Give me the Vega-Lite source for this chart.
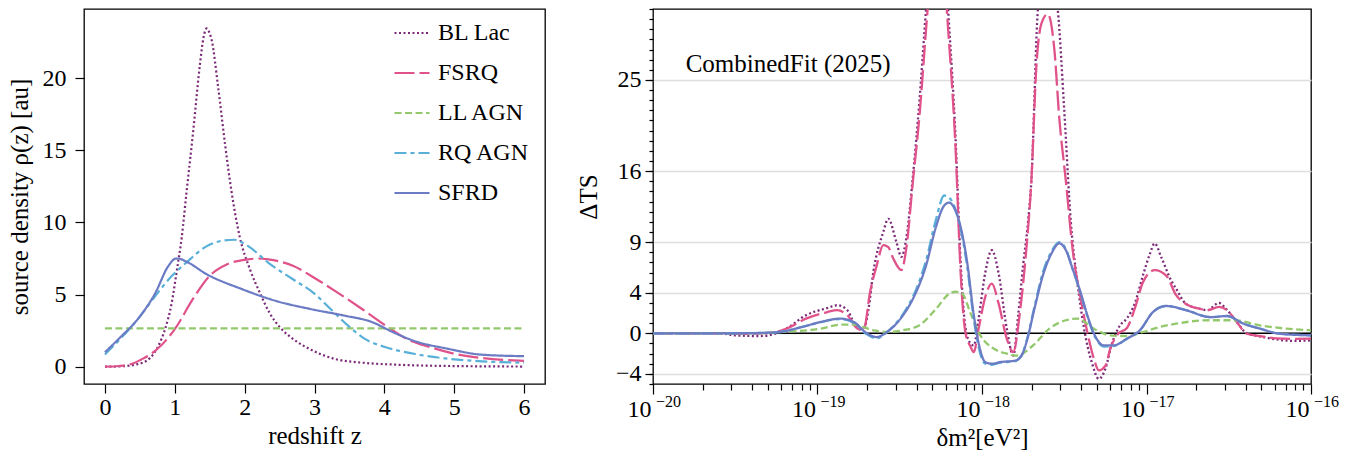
{
"$schema": "https://vega.github.io/schema/vega-lite/v6.json",
"padding": {"left": 6, "top": 7, "right": 0, "bottom": 0},
"background": "white",
"config": {
  "font": "Liberation Serif",
  "view": {"stroke": "black", "strokeWidth": 1.3},
  "axis": {"domain": false, "grid": false, "tickColor": "black", "tickWidth": 1.2, "labelColor": "black", "labelFont": "Liberation Serif", "labelFontSize": 24, "labelFlush": false, "labelOverlap": false, "titleFont": "Liberation Serif", "titleFontSize": 25, "titleFontWeight": "normal", "titleColor": "black"},
  "legend": {"labelFont": "Liberation Serif"}
},
"datasets": {
"rho": [
{"src":"BL Lac","z":0,"rho":0},{"src":"BL Lac","z":0.2,"rho":0.02},{"src":"BL Lac","z":0.45,"rho":0.16},{"src":"BL Lac","z":0.55,"rho":0.3},{"src":"BL Lac","z":0.645,"rho":0.6},{"src":"BL Lac","z":0.76,"rho":1.4},{"src":"BL Lac","z":0.86,"rho":2.6},{"src":"BL Lac","z":0.955,"rho":4.4},{"src":"BL Lac","z":1.03,"rho":6.7},{"src":"BL Lac","z":1.1,"rho":9.0},{"src":"BL Lac","z":1.17,"rho":12.2},{"src":"BL Lac","z":1.265,"rho":16.4},{"src":"BL Lac","z":1.36,"rho":20.97},{"src":"BL Lac","z":1.41,"rho":22.8},{"src":"BL Lac","z":1.457,"rho":23.45},{"src":"BL Lac","z":1.5,"rho":23.1},{"src":"BL Lac","z":1.53,"rho":22.6},{"src":"BL Lac","z":1.62,"rho":19.4},{"src":"BL Lac","z":1.72,"rho":15.4},{"src":"BL Lac","z":1.81,"rho":12.2},{"src":"BL Lac","z":1.93,"rho":9.0},{"src":"BL Lac","z":2.08,"rho":6.7},{"src":"BL Lac","z":2.22,"rho":5.1},{"src":"BL Lac","z":2.36,"rho":3.7},{"src":"BL Lac","z":2.51,"rho":2.7},{"src":"BL Lac","z":2.7,"rho":1.9},{"src":"BL Lac","z":2.94,"rho":1.2},{"src":"BL Lac","z":3.28,"rho":0.55},{"src":"BL Lac","z":3.68,"rho":0.28},{"src":"BL Lac","z":4.17,"rho":0.14},{"src":"BL Lac","z":4.9,"rho":0.05},{"src":"BL Lac","z":6,"rho":0.01},
{"src":"FSRQ","z":0,"rho":0},{"src":"FSRQ","z":0.2,"rho":0.05},{"src":"FSRQ","z":0.4,"rho":0.22},{"src":"FSRQ","z":0.52,"rho":0.5},{"src":"FSRQ","z":0.65,"rho":0.85},{"src":"FSRQ","z":0.81,"rho":1.5},{"src":"FSRQ","z":1.0,"rho":2.6},{"src":"FSRQ","z":1.26,"rho":4.7},{"src":"FSRQ","z":1.5,"rho":6.3},{"src":"FSRQ","z":1.75,"rho":7.1},{"src":"FSRQ","z":2.05,"rho":7.44},{"src":"FSRQ","z":2.2,"rho":7.5},{"src":"FSRQ","z":2.34,"rho":7.44},{"src":"FSRQ","z":2.69,"rho":7.0},{"src":"FSRQ","z":3.03,"rho":6.06},{"src":"FSRQ","z":3.33,"rho":5.14},{"src":"FSRQ","z":3.68,"rho":4.0},{"src":"FSRQ","z":4.02,"rho":2.85},{"src":"FSRQ","z":4.32,"rho":1.93},{"src":"FSRQ","z":4.66,"rho":1.35},{"src":"FSRQ","z":5.0,"rho":0.9},{"src":"FSRQ","z":5.4,"rho":0.6},{"src":"FSRQ","z":6,"rho":0.41},
{"src":"LL AGN","z":0,"rho":2.65},{"src":"LL AGN","z":3,"rho":2.65},{"src":"LL AGN","z":6,"rho":2.65},
{"src":"RQ AGN","z":0,"rho":0.85},{"src":"RQ AGN","z":0.22,"rho":1.93},{"src":"RQ AGN","z":0.47,"rho":3.3},{"src":"RQ AGN","z":0.72,"rho":4.9},{"src":"RQ AGN","z":0.96,"rho":6.3},{"src":"RQ AGN","z":1.16,"rho":7.2},{"src":"RQ AGN","z":1.46,"rho":8.36},{"src":"RQ AGN","z":1.7,"rho":8.75},{"src":"RQ AGN","z":1.85,"rho":8.8},{"src":"RQ AGN","z":2.05,"rho":8.36},{"src":"RQ AGN","z":2.34,"rho":7.2},{"src":"RQ AGN","z":2.69,"rho":6.06},{"src":"RQ AGN","z":2.98,"rho":5.14},{"src":"RQ AGN","z":3.23,"rho":4.0},{"src":"RQ AGN","z":3.48,"rho":2.85},{"src":"RQ AGN","z":3.72,"rho":1.93},{"src":"RQ AGN","z":4.02,"rho":1.35},{"src":"RQ AGN","z":4.42,"rho":0.9},{"src":"RQ AGN","z":4.91,"rho":0.55},{"src":"RQ AGN","z":5.4,"rho":0.37},{"src":"RQ AGN","z":6,"rho":0.28},
{"src":"SFRD","z":0,"rho":1.0},{"src":"SFRD","z":0.22,"rho":2.04},{"src":"SFRD","z":0.47,"rho":3.3},{"src":"SFRD","z":0.72,"rho":5.1},{"src":"SFRD","z":0.91,"rho":7.0},{"src":"SFRD","z":1.01,"rho":7.49},{"src":"SFRD","z":1.05,"rho":7.5},{"src":"SFRD","z":1.16,"rho":7.3},{"src":"SFRD","z":1.46,"rho":6.4},{"src":"SFRD","z":1.95,"rho":5.4},{"src":"SFRD","z":2.44,"rho":4.57},{"src":"SFRD","z":2.94,"rho":4.0},{"src":"SFRD","z":3.43,"rho":3.54},{"src":"SFRD","z":3.82,"rho":3.1},{"src":"SFRD","z":4.12,"rho":2.4},{"src":"SFRD","z":4.42,"rho":1.8},{"src":"SFRD","z":4.91,"rho":1.24},{"src":"SFRD","z":5.4,"rho":0.83},{"src":"SFRD","z":6,"rho":0.73}
],
"dts": [
{"src":"BL Lac","m":1e-20,"ts":0},{"src":"BL Lac","m":2.512e-20,"ts":0},{"src":"BL Lac","m":3.162e-20,"ts":-0.2},{"src":"BL Lac","m":4.467e-20,"ts":-0.27},{"src":"BL Lac","m":5.623e-20,"ts":0},{"src":"BL Lac","m":6.457e-20,"ts":0.46},{"src":"BL Lac","m":8.511e-20,"ts":1.78},{"src":"BL Lac","m":1.148e-19,"ts":2.5},{"src":"BL Lac","m":1.318e-19,"ts":2.77},{"src":"BL Lac","m":1.514e-19,"ts":2.3},{"src":"BL Lac","m":1.66e-19,"ts":1.1},{"src":"BL Lac","m":1.82e-19,"ts":0.4},{"src":"BL Lac","m":1.95e-19,"ts":0.8},{"src":"BL Lac","m":2.042e-19,"ts":2.4},{"src":"BL Lac","m":2.188e-19,"ts":6.1},{"src":"BL Lac","m":2.512e-19,"ts":10.0},{"src":"BL Lac","m":2.692e-19,"ts":11.3},{"src":"BL Lac","m":3.02e-19,"ts":9.0},{"src":"BL Lac","m":3.236e-19,"ts":7.55},{"src":"BL Lac","m":3.467e-19,"ts":9.4},{"src":"BL Lac","m":3.802e-19,"ts":15.5},{"src":"BL Lac","m":4.169e-19,"ts":23},{"src":"BL Lac","m":4.571e-19,"ts":32},{"src":"BL Lac","m":5.012e-19,"ts":40},{"src":"BL Lac","m":5.37e-19,"ts":44},{"src":"BL Lac","m":5.754e-19,"ts":41},{"src":"BL Lac","m":6.166e-19,"ts":33},{"src":"BL Lac","m":6.918e-19,"ts":19},{"src":"BL Lac","m":7.413e-19,"ts":7},{"src":"BL Lac","m":7.943e-19,"ts":0.5},{"src":"BL Lac","m":8.511e-19,"ts":-1.0},{"src":"BL Lac","m":8.913e-19,"ts":-1.2},{"src":"BL Lac","m":9.55e-19,"ts":1.5},{"src":"BL Lac","m":1.047e-18,"ts":6.0},{"src":"BL Lac","m":1.148e-18,"ts":8.2},{"src":"BL Lac","m":1.259e-18,"ts":6.0},{"src":"BL Lac","m":1.413e-18,"ts":0.5},{"src":"BL Lac","m":1.549e-18,"ts":-2.2},{"src":"BL Lac","m":1.66e-18,"ts":1.8},{"src":"BL Lac","m":1.778e-18,"ts":6.7},{"src":"BL Lac","m":1.905e-18,"ts":11},{"src":"BL Lac","m":1.995e-18,"ts":15},{"src":"BL Lac","m":2.188e-18,"ts":32},{"src":"BL Lac","m":2.399e-18,"ts":36},{"src":"BL Lac","m":2.63e-18,"ts":35},{"src":"BL Lac","m":2.884e-18,"ts":32},{"src":"BL Lac","m":3.162e-18,"ts":22},{"src":"BL Lac","m":3.467e-18,"ts":11},{"src":"BL Lac","m":3.802e-18,"ts":5},{"src":"BL Lac","m":4.169e-18,"ts":0.5},{"src":"BL Lac","m":4.677e-18,"ts":-3.0},{"src":"BL Lac","m":5.129e-18,"ts":-4.5},{"src":"BL Lac","m":5.623e-18,"ts":-3.5},{"src":"BL Lac","m":6.166e-18,"ts":-1.0},{"src":"BL Lac","m":6.918e-18,"ts":0.8},{"src":"BL Lac","m":7.586e-18,"ts":1.45},{"src":"BL Lac","m":8.511e-18,"ts":3.0},{"src":"BL Lac","m":9.55e-18,"ts":5.8},{"src":"BL Lac","m":1.047e-17,"ts":7.8},{"src":"BL Lac","m":1.122e-17,"ts":8.87},{"src":"BL Lac","m":1.23e-17,"ts":7.5},{"src":"BL Lac","m":1.413e-17,"ts":5.2},{"src":"BL Lac","m":1.514e-17,"ts":4.4},{"src":"BL Lac","m":1.738e-17,"ts":2.9},{"src":"BL Lac","m":2.138e-17,"ts":2.4},{"src":"BL Lac","m":2.344e-17,"ts":2.28},{"src":"BL Lac","m":2.754e-17,"ts":3.0},{"src":"BL Lac","m":3.09e-17,"ts":2.3},{"src":"BL Lac","m":3.548e-17,"ts":1.1},{"src":"BL Lac","m":4.074e-17,"ts":0.0},{"src":"BL Lac","m":4.898e-17,"ts":-0.3},{"src":"BL Lac","m":6.166e-17,"ts":-0.6},{"src":"BL Lac","m":7.762e-17,"ts":-0.75},{"src":"BL Lac","m":1e-16,"ts":-0.7},
{"src":"FSRQ","m":1e-20,"ts":0},{"src":"FSRQ","m":2.512e-20,"ts":0},{"src":"FSRQ","m":3.548e-20,"ts":-0.05},{"src":"FSRQ","m":4.467e-20,"ts":0},{"src":"FSRQ","m":5.623e-20,"ts":0.15},{"src":"FSRQ","m":6.457e-20,"ts":0.46},{"src":"FSRQ","m":8.511e-20,"ts":1.45},{"src":"FSRQ","m":1.148e-19,"ts":2.1},{"src":"FSRQ","m":1.318e-19,"ts":2.28},{"src":"FSRQ","m":1.514e-19,"ts":1.8},{"src":"FSRQ","m":1.738e-19,"ts":0.5},{"src":"FSRQ","m":1.905e-19,"ts":0.3},{"src":"FSRQ","m":2.089e-19,"ts":4.1},{"src":"FSRQ","m":2.291e-19,"ts":6.7},{"src":"FSRQ","m":2.512e-19,"ts":8.7},{"src":"FSRQ","m":2.692e-19,"ts":8.5},{"src":"FSRQ","m":2.884e-19,"ts":7.4},{"src":"FSRQ","m":3.236e-19,"ts":6.24},{"src":"FSRQ","m":3.467e-19,"ts":8.4},{"src":"FSRQ","m":3.802e-19,"ts":15.0},{"src":"FSRQ","m":4.169e-19,"ts":21.5},{"src":"FSRQ","m":4.571e-19,"ts":30},{"src":"FSRQ","m":5.012e-19,"ts":38},{"src":"FSRQ","m":5.37e-19,"ts":41},{"src":"FSRQ","m":5.754e-19,"ts":38},{"src":"FSRQ","m":6.166e-19,"ts":31},{"src":"FSRQ","m":6.918e-19,"ts":18},{"src":"FSRQ","m":7.413e-19,"ts":6},{"src":"FSRQ","m":7.943e-19,"ts":0},{"src":"FSRQ","m":8.511e-19,"ts":-1.3},{"src":"FSRQ","m":8.913e-19,"ts":-1.85},{"src":"FSRQ","m":9.55e-19,"ts":0.5},{"src":"FSRQ","m":1.047e-18,"ts":3.6},{"src":"FSRQ","m":1.148e-18,"ts":4.9},{"src":"FSRQ","m":1.259e-18,"ts":3.0},{"src":"FSRQ","m":1.413e-18,"ts":-0.5},{"src":"FSRQ","m":1.549e-18,"ts":-1.85},{"src":"FSRQ","m":1.698e-18,"ts":2.0},{"src":"FSRQ","m":1.862e-18,"ts":8.4},{"src":"FSRQ","m":1.995e-18,"ts":15},{"src":"FSRQ","m":2.138e-18,"ts":26.2},{"src":"FSRQ","m":2.291e-18,"ts":30.5},{"src":"FSRQ","m":2.512e-18,"ts":31.5},{"src":"FSRQ","m":2.754e-18,"ts":28},{"src":"FSRQ","m":2.951e-18,"ts":21.2},{"src":"FSRQ","m":3.236e-18,"ts":15},{"src":"FSRQ","m":3.548e-18,"ts":8.4},{"src":"FSRQ","m":3.981e-18,"ts":3.4},{"src":"FSRQ","m":4.365e-18,"ts":0.13},{"src":"FSRQ","m":4.786e-18,"ts":-2.5},{"src":"FSRQ","m":5.129e-18,"ts":-3.66},{"src":"FSRQ","m":5.623e-18,"ts":-3.2},{"src":"FSRQ","m":6.026e-18,"ts":-1.5},{"src":"FSRQ","m":6.761e-18,"ts":0},{"src":"FSRQ","m":7.586e-18,"ts":0.5},{"src":"FSRQ","m":8.511e-18,"ts":2.5},{"src":"FSRQ","m":9.55e-18,"ts":5.1},{"src":"FSRQ","m":1.122e-17,"ts":6.24},{"src":"FSRQ","m":1.318e-17,"ts":5.7},{"src":"FSRQ","m":1.514e-17,"ts":3.76},{"src":"FSRQ","m":1.738e-17,"ts":2.9},{"src":"FSRQ","m":2.138e-17,"ts":2.4},{"src":"FSRQ","m":2.344e-17,"ts":2.28},{"src":"FSRQ","m":2.754e-17,"ts":2.6},{"src":"FSRQ","m":3.09e-17,"ts":2.28},{"src":"FSRQ","m":3.548e-17,"ts":1.1},{"src":"FSRQ","m":4.074e-17,"ts":-0.04},{"src":"FSRQ","m":4.898e-17,"ts":-0.27},{"src":"FSRQ","m":6.166e-17,"ts":-0.5},{"src":"FSRQ","m":7.762e-17,"ts":-0.55},{"src":"FSRQ","m":1e-16,"ts":-0.53},
{"src":"LL AGN","m":1e-20,"ts":0},{"src":"LL AGN","m":2.512e-20,"ts":0},{"src":"LL AGN","m":4.467e-20,"ts":0.02},{"src":"LL AGN","m":6.31e-20,"ts":0.15},{"src":"LL AGN","m":1.047e-19,"ts":0.46},{"src":"LL AGN","m":1.38e-19,"ts":0.85},{"src":"LL AGN","m":1.66e-19,"ts":0.85},{"src":"LL AGN","m":2.188e-19,"ts":0.3},{"src":"LL AGN","m":2.63e-19,"ts":0.13},{"src":"LL AGN","m":3.311e-19,"ts":0.3},{"src":"LL AGN","m":4.169e-19,"ts":0.8},{"src":"LL AGN","m":5.248e-19,"ts":2.4},{"src":"LL AGN","m":6.31e-19,"ts":3.9},{"src":"LL AGN","m":6.918e-19,"ts":4.1},{"src":"LL AGN","m":7.586e-19,"ts":3.9},{"src":"LL AGN","m":8.511e-19,"ts":2.0},{"src":"LL AGN","m":9.772e-19,"ts":-0.2},{"src":"LL AGN","m":1.175e-18,"ts":-1.5},{"src":"LL AGN","m":1.413e-18,"ts":-2.0},{"src":"LL AGN","m":1.622e-18,"ts":-2.2},{"src":"LL AGN","m":2.042e-18,"ts":-1.2},{"src":"LL AGN","m":2.57e-18,"ts":0.46},{"src":"LL AGN","m":3.236e-18,"ts":1.29},{"src":"LL AGN","m":3.802e-18,"ts":1.45},{"src":"LL AGN","m":4.786e-18,"ts":0.46},{"src":"LL AGN","m":6.026e-18,"ts":-0.2},{"src":"LL AGN","m":7.586e-18,"ts":-0.27},{"src":"LL AGN","m":9.55e-18,"ts":0.13},{"src":"LL AGN","m":1.202e-17,"ts":0.62},{"src":"LL AGN","m":1.514e-17,"ts":0.95},{"src":"LL AGN","m":1.905e-17,"ts":1.19},{"src":"LL AGN","m":2.455e-17,"ts":1.29},{"src":"LL AGN","m":3.388e-17,"ts":1.29},{"src":"LL AGN","m":4.898e-17,"ts":0.79},{"src":"LL AGN","m":7.079e-17,"ts":0.46},{"src":"LL AGN","m":1e-16,"ts":0.3},
{"src":"RQ AGN","m":1e-20,"ts":0},{"src":"RQ AGN","m":2.512e-20,"ts":0},{"src":"RQ AGN","m":3.981e-20,"ts":0.02},{"src":"RQ AGN","m":5.012e-20,"ts":0.06},{"src":"RQ AGN","m":5.888e-20,"ts":0.13},{"src":"RQ AGN","m":7.943e-20,"ts":0.6},{"src":"RQ AGN","m":1.047e-19,"ts":1.1},{"src":"RQ AGN","m":1.38e-19,"ts":1.4},{"src":"RQ AGN","m":1.66e-19,"ts":1.05},{"src":"RQ AGN","m":1.995e-19,"ts":-0.1},{"src":"RQ AGN","m":2.291e-19,"ts":-0.5},{"src":"RQ AGN","m":2.63e-19,"ts":0.1},{"src":"RQ AGN","m":3.311e-19,"ts":1.9},{"src":"RQ AGN","m":3.802e-19,"ts":3.6},{"src":"RQ AGN","m":4.571e-19,"ts":7.2},{"src":"RQ AGN","m":5.248e-19,"ts":11.2},{"src":"RQ AGN","m":5.888e-19,"ts":13.6},{"src":"RQ AGN","m":6.31e-19,"ts":13.4},{"src":"RQ AGN","m":6.761e-19,"ts":12.6},{"src":"RQ AGN","m":7.413e-19,"ts":10.3},{"src":"RQ AGN","m":8.128e-19,"ts":6.6},{"src":"RQ AGN","m":8.913e-19,"ts":1.4},{"src":"RQ AGN","m":9.55e-19,"ts":-1.4},{"src":"RQ AGN","m":1.047e-18,"ts":-3.0},{"src":"RQ AGN","m":1.148e-18,"ts":-3.1},{"src":"RQ AGN","m":1.288e-18,"ts":-2.9},{"src":"RQ AGN","m":1.585e-18,"ts":-2.75},{"src":"RQ AGN","m":1.738e-18,"ts":-2.2},{"src":"RQ AGN","m":1.862e-18,"ts":-0.8},{"src":"RQ AGN","m":2.089e-18,"ts":2.7},{"src":"RQ AGN","m":2.344e-18,"ts":6.0},{"src":"RQ AGN","m":2.63e-18,"ts":8.0},{"src":"RQ AGN","m":2.951e-18,"ts":9.0},{"src":"RQ AGN","m":3.236e-18,"ts":8.3},{"src":"RQ AGN","m":3.548e-18,"ts":6.4},{"src":"RQ AGN","m":3.981e-18,"ts":3.9},{"src":"RQ AGN","m":4.365e-18,"ts":1.7},{"src":"RQ AGN","m":4.786e-18,"ts":-0.1},{"src":"RQ AGN","m":5.495e-18,"ts":-1.3},{"src":"RQ AGN","m":6.31e-18,"ts":-1.25},{"src":"RQ AGN","m":7.586e-18,"ts":-0.55},{"src":"RQ AGN","m":9.12e-18,"ts":0.3},{"src":"RQ AGN","m":1.096e-17,"ts":2.1},{"src":"RQ AGN","m":1.318e-17,"ts":2.7},{"src":"RQ AGN","m":1.738e-17,"ts":2.3},{"src":"RQ AGN","m":2.455e-17,"ts":1.6},{"src":"RQ AGN","m":3.09e-17,"ts":1.7},{"src":"RQ AGN","m":3.89e-17,"ts":0.95},{"src":"RQ AGN","m":4.898e-17,"ts":0.46},{"src":"RQ AGN","m":6.457e-17,"ts":-0.04},{"src":"RQ AGN","m":1e-16,"ts":-0.2},
{"src":"SFRD","m":1e-20,"ts":0},{"src":"SFRD","m":2.512e-20,"ts":0},{"src":"SFRD","m":3.981e-20,"ts":0.02},{"src":"SFRD","m":5.012e-20,"ts":0.06},{"src":"SFRD","m":5.888e-20,"ts":0.13},{"src":"SFRD","m":7.943e-20,"ts":0.6},{"src":"SFRD","m":1.047e-19,"ts":1.12},{"src":"SFRD","m":1.38e-19,"ts":1.45},{"src":"SFRD","m":1.66e-19,"ts":1.12},{"src":"SFRD","m":1.995e-19,"ts":0.0},{"src":"SFRD","m":2.291e-19,"ts":-0.37},{"src":"SFRD","m":2.63e-19,"ts":0.1},{"src":"SFRD","m":3.311e-19,"ts":1.78},{"src":"SFRD","m":3.802e-19,"ts":3.4},{"src":"SFRD","m":4.571e-19,"ts":6.7},{"src":"SFRD","m":5.248e-19,"ts":10.5},{"src":"SFRD","m":5.888e-19,"ts":12.6},{"src":"SFRD","m":6.31e-19,"ts":12.9},{"src":"SFRD","m":6.761e-19,"ts":12.4},{"src":"SFRD","m":7.413e-19,"ts":10.5},{"src":"SFRD","m":8.128e-19,"ts":7.0},{"src":"SFRD","m":8.913e-19,"ts":1.8},{"src":"SFRD","m":9.55e-19,"ts":-1.0},{"src":"SFRD","m":1.047e-18,"ts":-2.84},{"src":"SFRD","m":1.148e-18,"ts":-3.0},{"src":"SFRD","m":1.288e-18,"ts":-2.84},{"src":"SFRD","m":1.585e-18,"ts":-2.7},{"src":"SFRD","m":1.738e-18,"ts":-2.2},{"src":"SFRD","m":1.862e-18,"ts":-0.9},{"src":"SFRD","m":2.089e-18,"ts":2.5},{"src":"SFRD","m":2.344e-18,"ts":5.7},{"src":"SFRD","m":2.63e-18,"ts":7.8},{"src":"SFRD","m":2.951e-18,"ts":8.87},{"src":"SFRD","m":3.236e-18,"ts":8.2},{"src":"SFRD","m":3.548e-18,"ts":6.4},{"src":"SFRD","m":3.981e-18,"ts":4.0},{"src":"SFRD","m":4.365e-18,"ts":1.8},{"src":"SFRD","m":4.786e-18,"ts":0.0},{"src":"SFRD","m":5.495e-18,"ts":-1.19},{"src":"SFRD","m":6.31e-18,"ts":-1.19},{"src":"SFRD","m":7.586e-18,"ts":-0.53},{"src":"SFRD","m":9.12e-18,"ts":0.3},{"src":"SFRD","m":1.096e-17,"ts":2.1},{"src":"SFRD","m":1.318e-17,"ts":2.7},{"src":"SFRD","m":1.738e-17,"ts":2.28},{"src":"SFRD","m":2.455e-17,"ts":1.6},{"src":"SFRD","m":3.09e-17,"ts":1.71},{"src":"SFRD","m":3.89e-17,"ts":0.95},{"src":"SFRD","m":4.898e-17,"ts":0.46},{"src":"SFRD","m":6.457e-17,"ts":-0.04},{"src":"SFRD","m":1e-16,"ts":-0.2}
]
},
"spacing": 108,
"bounds": "flush",
"resolve": {"scale": {"color": "independent", "strokeDash": "independent"}, "legend": {"color": "independent", "strokeDash": "independent"}},
"hconcat": [
{
  "width": 461, "height": 375,
  "data": {"name": "rho"},
  "mark": {"type": "line", "interpolate": "monotone", "strokeWidth": 2.2, "clip": true},
  "encoding": {
    "x": {"field": "z", "type": "quantitative", "scale": {"domain": [-0.3, 6.3], "nice": false, "zero": false},
          "axis": {"values": [0,1,2,3,4,5,6], "tickSize": 9, "labelPadding": 2, "title": "redshift z", "titlePadding": 4}},
    "y": {"field": "rho", "type": "quantitative", "scale": {"domain": [-1.2, 24.8], "nice": false, "zero": false},
          "axis": {"values": [0,5,10,15,20], "tickSize": 9, "labelPadding": 9, "title": "source density ρ(z) [au]", "titlePadding": 10}},
    "color": {"field": "src", "type": "nominal",
      "scale": {"domain": ["BL Lac","FSRQ","LL AGN","RQ AGN","SFRD"], "range": ["#7a2877","#e0528a","#93c96c","#58b0d9","#6b7bc4"]},
      "legend": {"orient": "none", "legendX": 309, "legendY": 5, "title": null, "symbolType": "stroke", "symbolSize": 1225, "symbolStrokeWidth": 2.2, "labelFontSize": 24, "labelOffset": 7, "rowPadding": 9, "padding": 0, "labelColor": "black"}},
    "strokeDash": {"field": "src", "type": "nominal",
      "scale": {"domain": ["BL Lac","FSRQ","LL AGN","RQ AGN","SFRD"], "range": [[2,2.5],[20,5],[7,3.5],[12,4,4,4],[1,0]]},
      "legend": {"orient": "none", "legendX": 309, "legendY": 5, "title": null, "symbolType": "stroke", "symbolSize": 1225, "symbolStrokeWidth": 2.2, "labelFontSize": 24, "labelOffset": 7, "rowPadding": 9, "padding": 0, "labelColor": "black"}}
  }
},
{
  "width": 658, "height": 375,
  "data": {"name": "dts"},
  "resolve": {"axis": {"x": "independent", "y": "independent"}},
  "layer": [
    {
      "data": {"values": [{}]},
      "mark": {"type": "rule", "color": "black", "strokeWidth": 1.5},
      "encoding": {"y": {"datum": 0, "type": "quantitative", "axis": null}}
    },
    {
      "mark": {"type": "line", "interpolate": "monotone", "strokeWidth": 2.3, "clip": true},
      "encoding": {
        "x": {"field": "m", "type": "quantitative", "scale": {"type": "log", "domain": [1e-20, 1e-16], "nice": false},
              "axis": {"orient": "bottom", "values": [1e-20, 1e-19, 1e-18, 1e-17, 1e-16], "tickSize": 10, "labelPadding": 3, "labelOffset": -14,
                       "labelExpr": "'10'",
                       "title": "δm²[eV²]", "titlePadding": 4}},
        "y": {"field": "ts", "type": "quantitative", "scale": {"domain": [-5, 32], "nice": false, "zero": false},
              "axis": {"orient": "left", "values": [-4, 0, 4, 9, 16, 25], "tickSize": 8, "labelPadding": 4, "grid": true, "gridColor": "#dedede", "gridWidth": 1.3, "title": "ΔTS", "titlePadding": 14}},
        "color": {"field": "src", "type": "nominal",
          "scale": {"domain": ["BL Lac","FSRQ","LL AGN","RQ AGN","SFRD"], "range": ["#7a2877","#e0528a","#93c96c","#58b0d9","#6b7bc4"]}, "legend": null},
        "strokeDash": {"field": "src", "type": "nominal",
          "scale": {"domain": ["BL Lac","FSRQ","LL AGN","RQ AGN","SFRD"], "range": [[2,2.5],[20,5],[7,3.5],[12,4,4,4],[1,0]]}, "legend": null}
      }
    },
    {
      "data": {"values": [{}]},
      "mark": {"type": "point", "opacity": 0},
      "encoding": {
        "x": {"datum": 1e-18, "type": "quantitative",
              "axis": {"orient": "bottom", "values": [2e-20,3e-20,4e-20,5e-20,6e-20,7e-20,8e-20,9e-20,2e-19,3e-19,4e-19,5e-19,6e-19,7e-19,8e-19,9e-19,2e-18,3e-18,4e-18,5e-18,6e-18,7e-18,8e-18,9e-18,2e-17,3e-17,4e-17,5e-17,6e-17,7e-17,8e-17,9e-17], "tickSize": 6, "labels": false, "title": null, "grid": false}},
        "y": {"datum": 0, "type": "quantitative",
              "axis": {"orient": "left", "values": [-5,-4,-3,-2,-1,0,1,2,3,4,5,6,7,8,9,10,11,12,13,14,15,16,17,18,19,20,21,22,23,24,25,26,27,28,29,30,31,32], "tickSize": 4, "labels": false, "title": null, "grid": false}}
      }
    },
    {
      "data": {"values": [{}]},
      "mark": {"type": "point", "opacity": 0},
      "encoding": {
        "x": {"datum": 1e-18, "type": "quantitative",
              "axis": {"orient": "bottom", "values": [1e-20, 1e-19, 1e-18, 1e-17, 1e-16], "ticks": false, "labelPadding": 9, "labelFontSize": 16, "labelOffset": 15,
                       "labelExpr": "datum.value < 1.5e-20 ? '−20' : datum.value < 1.5e-19 ? '−19' : datum.value < 1.5e-18 ? '−18' : datum.value < 1.5e-17 ? '−17' : '−16'",
                       "title": null, "grid": false}}
      }
    },
    {
      "data": {"values": [{"t": "CombinedFit (2025)"}]},
      "mark": {"type": "text", "align": "left", "baseline": "middle", "fontSize": 25, "font": "Liberation Serif", "color": "black"},
      "encoding": {
        "x": {"datum": 1.58e-20, "type": "quantitative", "axis": null},
        "y": {"datum": 26.6, "type": "quantitative", "axis": null},
        "text": {"field": "t"}
      }
    }
  ]
}
]
}
